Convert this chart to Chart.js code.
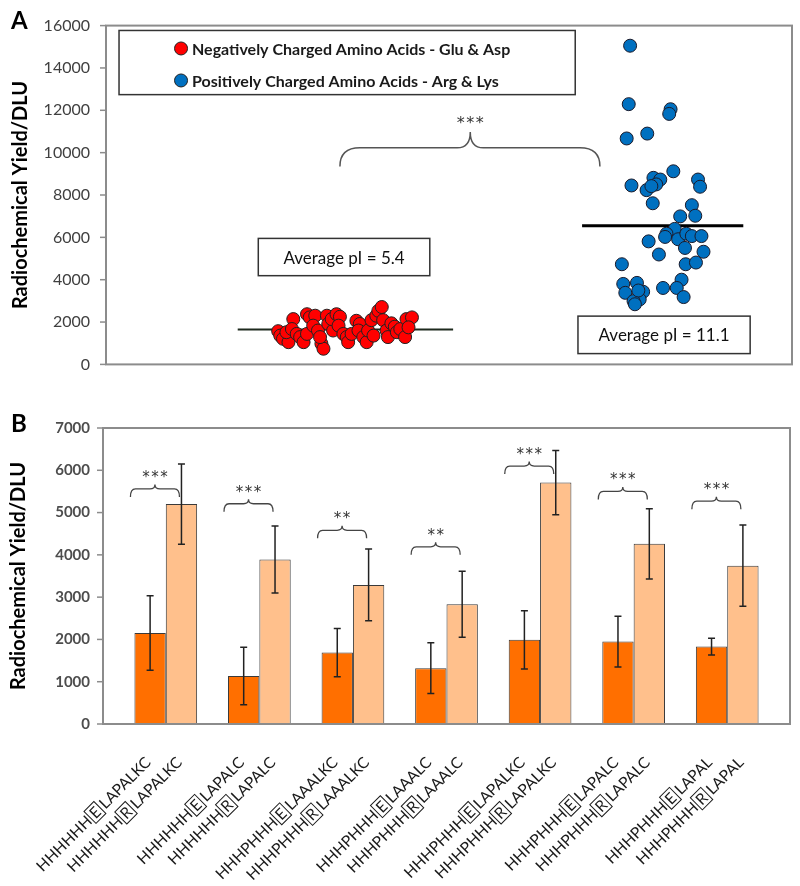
<!DOCTYPE html>
<html>
<head>
<meta charset="utf-8">
<script src="https://cdn.jsdelivr.net/npm/chart.js@4.4.0/dist/chart.umd.min.js"></script>
<style>
body { margin: 0; background: #fff; }
canvas { display: block; }
</style>
</head>
<body>
<canvas id="chartA" width="800" height="390"></canvas>
<canvas id="chartB" width="800" height="496"></canvas>
<script>
// ---- panel A : individual peptides (x = jitter position only)
const negX = [25.1, 25.4, 25.8, 26.6, 26.3, 27.3, 27.1, 27.8, 28.3, 28.8, 29.3, 29.3, 29.7, 30.5, 30.2, 30.9, 31.4, 31.7, 31.2, 32.2, 32.4, 33.1, 32.9, 33.6, 34.1, 33.9, 34.6, 35.1, 35.3, 35.8, 36.5, 37.0, 36.8, 37.5, 38.0, 38.2, 39.0, 38.7, 39.4, 39.7, 40.2, 40.4, 40.9, 41.1, 41.6, 42.1, 42.4, 42.9, 43.6, 43.8, 44.6, 44.1];
const negY = [1570, 1360, 1210, 1050, 1520, 2140, 1670, 1440, 1290, 1050, 1440, 2370, 2220, 2300, 1830, 1600, 980, 740, 1290, 2300, 1910, 1600, 2140, 2370, 2250, 1830, 1440, 1290, 1050, 1440, 2060, 1910, 1600, 1290, 1050, 1600, 1360, 2090, 2300, 2530, 2710, 2090, 1600, 1290, 1940, 1780, 1520, 1670, 1290, 2140, 2220, 1750];
const posX = [76.4, 76.2, 82.3, 82.1, 75.9, 78.9, 82.7, 76.6, 79.8, 80.8, 80.2, 78.8, 79.5, 86.3, 86.6, 79.7, 85.4, 85.9, 83.7, 82.9, 81.7, 81.5, 83.4, 84.6, 85.4, 86.8, 84.4, 79.1, 87.1, 80.6, 84.5, 86.0, 75.2, 83.9, 83.2, 81.2, 84.2, 75.4, 77.4, 75.7, 78.3, 77.8, 76.9, 77.1, 77.6];
const posY = [15050, 12290, 12050, 11830, 10670, 10900, 9120, 8450, 8810, 8730, 8500, 8230, 8420, 8730, 8390, 7610, 7520, 7020, 6990, 6400, 6170, 6020, 5910, 6170, 6060, 6060, 5500, 5810, 5320, 5190, 4730, 4810, 4730, 4000, 3610, 3610, 3180, 3800, 3850, 3380, 3430, 3070, 2990, 2840, 3490];
const negAvg = 1650;
const posAvg = 6550;
const negAvgSpan = [19.2, 50.6];
const posAvgSpan = [69.4, 92.9];
const legendA = ['Negatively Charged Amino Acids - Glu & Asp', 'Positively Charged Amino Acids - Arg & Lys'];
const avgLabels = ['Average pI = 5.4', 'Average pI = 11.1'];
const yTicksA = [0, 16000, 2000];

// ---- panel B : paired peptides
const prefixes = ['HHHHHH', 'HHHHHH', 'HHHPHHH', 'HHHPHHH', 'HHHPHHH', 'HHHPHHH', 'HHHPHHH'];
const suffixes = ['LAPALKC', 'LAPALC', 'LAAALKC', 'LAAALC', 'LAPALKC', 'LAPALC', 'LAPAL'];
const swapped = ['E', 'R'];
const gluMean = [2150, 1135, 1690, 1320, 1990, 1950, 1830];
const gluErr = [880, 680, 570, 600, 690, 600, 200];
const argMean = [5200, 3890, 3290, 2830, 5710, 4260, 3745];
const argErr = [950, 790, 850, 780, 760, 830, 960];
const sigLabels = ['***', '***', '**', '**', '***', '***', '***'];
const sigLevel = [5370, 5020, 4390, 4000, 5910, 5310, 5080];
const yTicksB = [0, 7000, 1000];

const FONT = 'Lato, "Open Sans", sans-serif';
const STAR_FONT = '"DejaVu Sans", sans-serif';
const yTitle = 'Radiochemical Yield/DLU';

function brace(ctx, x1, x2, xc, yEnd, yH, yTop, r, rc) {
  ctx.beginPath();
  ctx.moveTo(x1, yEnd);
  ctx.quadraticCurveTo(x1, yH, x1 + r, yH);
  ctx.lineTo(xc - rc, yH);
  ctx.quadraticCurveTo(xc, yH, xc, yTop);
  ctx.quadraticCurveTo(xc, yH, xc + rc, yH);
  ctx.lineTo(x2 - r, yH);
  ctx.quadraticCurveTo(x2, yH, x2, yEnd);
  ctx.stroke();
}

function stars(ctx, s, x, y) {
  // asterisks with a little gap, centred on x
  const gap = 1.5;
  const w = ctx.measureText('*').width;
  const total = s.length * w + (s.length - 1) * gap;
  ctx.textAlign = 'left';
  for (let i = 0; i < s.length; i++) ctx.fillText('*', x - total / 2 + i * (w + gap), y);
  ctx.textAlign = 'center';
}

const panelA = {
  id: 'panelA',
  afterDraw(chart) {
    const { ctx, chartArea: a, scales: { x, y } } = chart;
    ctx.save();
    ctx.strokeStyle = '#8c8c8c';
    ctx.lineWidth = 2;
    ctx.strokeRect(a.left, a.top, a.right - a.left, a.bottom - a.top);
    ctx.lineWidth = 1.5;
    y.ticks.forEach(t => {
      const py = y.getPixelForValue(t.value);
      ctx.beginPath(); ctx.moveTo(a.left - 6, py); ctx.lineTo(a.left, py); ctx.stroke();
    });

    // legend box
    const lx1 = x.getPixelForValue(1.9), lx2 = x.getPixelForValue(68.4);
    const ly1 = y.getPixelForValue(15770), ly2 = y.getPixelForValue(12740);
    ctx.fillStyle = '#fff';
    ctx.fillRect(lx1, ly1, lx2 - lx1, ly2 - ly1);
    ctx.strokeStyle = '#333';
    ctx.lineWidth = 1.5;
    ctx.strokeRect(lx1, ly1, lx2 - lx1, ly2 - ly1);
    ctx.font = 'bold 16px ' + FONT;
    ctx.textBaseline = 'middle';
    ctx.textAlign = 'left';
    legendA.forEach((txt, i) => {
      const ds = chart.data.datasets[i];
      const cy = ly1 + 18 + i * 32, cx = lx1 + 62;
      ctx.beginPath();
      ctx.arc(cx, cy, 6.5, 0, Math.PI * 2);
      ctx.fillStyle = ds.backgroundColor;
      ctx.fill();
      ctx.strokeStyle = '#222';
      ctx.lineWidth = 1;
      ctx.stroke();
      ctx.fillStyle = '#1a1a1a';
      ctx.fillText(txt, cx + 11, cy + 1);
    });

    // average pI boxes
    const boxes = [[22.2, 47.2, 5950, 4190], [68.8, 93.9, 2280, 510]];
    ctx.font = '17px ' + FONT;
    ctx.textAlign = 'center';
    boxes.forEach((b, i) => {
      const bx1 = x.getPixelForValue(b[0]), bx2 = x.getPixelForValue(b[1]);
      const by1 = y.getPixelForValue(b[2]), by2 = y.getPixelForValue(b[3]);
      ctx.fillStyle = '#fff';
      ctx.fillRect(bx1, by1, bx2 - bx1, by2 - by1);
      ctx.strokeStyle = '#333';
      ctx.lineWidth = 1.5;
      ctx.strokeRect(bx1, by1, bx2 - bx1, by2 - by1);
      ctx.fillStyle = '#111';
      ctx.fillText(avgLabels[i], (bx1 + bx2) / 2, (by1 + by2) / 2 + 1);
    });

    // significance brace
    ctx.strokeStyle = '#555';
    ctx.lineWidth = 1.5;
    brace(ctx, x.getPixelForValue(34.1), x.getPixelForValue(72.0), x.getPixelForValue(53.1),
      y.getPixelForValue(9350), y.getPixelForValue(10230), y.getPixelForValue(10980), 20, 13);
    ctx.fillStyle = '#333';
    ctx.font = '16px ' + STAR_FONT;
    stars(ctx, '***', x.getPixelForValue(53.1), y.getPixelForValue(11580) + 5);

    ctx.fillStyle = '#000';
    ctx.font = 'bold 24px ' + FONT;
    ctx.textAlign = 'left';
    ctx.fillText('A', 11, 21);
    ctx.restore();
  }
};

new Chart('chartA', {
  type: 'scatter',
  data: {
    datasets: [
      { data: negX.map((v, i) => ({ x: v, y: negY[i] })), backgroundColor: '#ff0000', borderColor: '#222', borderWidth: 1, pointRadius: 6.5 },
      { data: posX.map((v, i) => ({ x: v, y: posY[i] })), backgroundColor: '#0070c0', borderColor: '#1a1a2a', borderWidth: 1, pointRadius: 6.5 },
      { data: negAvgSpan.map(v => ({ x: v, y: negAvg })), showLine: true, pointRadius: 0, borderColor: '#1e2a1e', borderWidth: 2 },
      { data: posAvgSpan.map(v => ({ x: v, y: posAvg })), showLine: true, pointRadius: 0, borderColor: '#000', borderWidth: 3 }
    ]
  },
  options: {
    responsive: false,
    animation: false,
    layout: { padding: { top: 22, bottom: 24, right: 8, left: 0 } },
    plugins: { legend: { display: false }, tooltip: { enabled: false } },
    scales: {
      x: { type: 'linear', min: 0, max: 100, display: false },
      y: {
        min: yTicksA[0], max: yTicksA[1],
        ticks: { stepSize: yTicksA[2], padding: 16, color: '#404040', font: { family: FONT, size: 16 }, callback: v => String(v) },
        grid: { display: false, drawTicks: false },
        border: { display: false },
        afterFit(s) { s.width = 106; },
        title: { display: true, text: yTitle, color: '#000', font: { family: FONT, size: 20, weight: 'bold' }, padding: { top: 9, bottom: 0 } }
      }
    }
  },
  plugins: [panelA]
});

function drawSeq(ctx, x, y, pre, letter, post) {
  ctx.save();
  ctx.translate(x, y);
  ctx.rotate(-Math.PI / 4);
  ctx.textAlign = 'left';
  ctx.textBaseline = 'middle';
  const pad = 2.5;
  const wp = ctx.measureText(pre).width, wl = ctx.measureText(letter).width, ws = ctx.measureText(post).width;
  const total = wp + wl + ws + pad * 4;
  let cx = -total;
  ctx.fillText(pre, cx, 0);
  cx += wp + pad / 2;
  ctx.strokeRect(cx, -9, wl + pad * 2, 17);
  ctx.fillText(letter, cx + pad, 0);
  cx += wl + pad * 3;
  ctx.fillText(post, cx, 0);
  ctx.restore();
}

const panelB = {
  id: 'panelB',
  afterDraw(chart) {
    const { ctx, chartArea: a, scales: { y } } = chart;
    const m0 = chart.getDatasetMeta(0).data, m1 = chart.getDatasetMeta(1).data;
    ctx.save();

    // error bars
    ctx.strokeStyle = '#222';
    ctx.lineWidth = 1.5;
    [[m0, gluMean, gluErr], [m1, argMean, argErr]].forEach(([bars, mean, err]) => {
      bars.forEach((b, j) => {
        const yt = y.getPixelForValue(mean[j] + err[j]), yb = y.getPixelForValue(mean[j] - err[j]);
        ctx.beginPath();
        ctx.moveTo(b.x, yt); ctx.lineTo(b.x, yb);
        ctx.moveTo(b.x - 3.5, yt); ctx.lineTo(b.x + 3.5, yt);
        ctx.moveTo(b.x - 3.5, yb); ctx.lineTo(b.x + 3.5, yb);
        ctx.stroke();
      });
    });

    // significance braces
    ctx.strokeStyle = '#444';
    ctx.lineWidth = 1.3;
    ctx.fillStyle = '#333';
    ctx.font = '15px ' + STAR_FONT;
    ctx.textAlign = 'center';
    ctx.textBaseline = 'middle';
    m0.forEach((b, j) => {
      const x1 = b.x - b.width / 2 - 4, x2 = m1[j].x - 2, xc = (x1 + x2) / 2;
      const yEnd = y.getPixelForValue(sigLevel[j]);
      brace(ctx, x1, x2, xc, yEnd, yEnd - 8, yEnd - 12.5, 5, 5);
      stars(ctx, sigLabels[j], xc, yEnd - 19);
    });

    // frame, wider than the category area
    ctx.strokeStyle = '#8c8c8c';
    ctx.lineWidth = 2;
    const fl = a.left - 16, fr = a.right + 16;
    ctx.strokeRect(fl, a.top, fr - fl, a.bottom - a.top);
    ctx.lineWidth = 1.5;
    y.ticks.forEach(t => {
      const py = y.getPixelForValue(t.value);
      ctx.beginPath(); ctx.moveTo(fl - 6, py); ctx.lineTo(fl, py); ctx.stroke();
    });

    // sequence labels with the swapped residue boxed
    ctx.fillStyle = '#1a1a1a';
    ctx.strokeStyle = '#1a1a1a';
    ctx.lineWidth = 1;
    ctx.font = '15.5px ' + FONT;
    [m0, m1].forEach((bars, k) => {
      bars.forEach((b, j) => drawSeq(ctx, b.x - 1, a.bottom + 35, prefixes[j], swapped[k], suffixes[j]));
    });

    ctx.fillStyle = '#000';
    ctx.font = 'bold 24px ' + FONT;
    ctx.textAlign = 'left';
    ctx.fillText('B', 11, 34);
    ctx.restore();
  }
};

new Chart('chartB', {
  type: 'bar',
  data: {
    labels: prefixes.map((p, i) => p + swapped[0] + suffixes[i]),
    datasets: [
      { data: gluMean, backgroundColor: '#ff6f00', borderColor: '#3a3a3a', borderWidth: 1 },
      { data: argMean, backgroundColor: '#ffc08c', borderColor: '#3a3a3a', borderWidth: 1 }
    ]
  },
  options: {
    responsive: false,
    animation: false,
    layout: { padding: { top: 38, bottom: 162, right: 26, left: 0 } },
    plugins: { legend: { display: false }, tooltip: { enabled: false } },
    datasets: { bar: { categoryPercentage: 0.67, barPercentage: 1 } },
    scales: {
      x: { display: false },
      y: {
        min: yTicksB[0], max: yTicksB[1],
        ticks: { stepSize: yTicksB[2], padding: 29, color: '#4d4d4d', font: { family: FONT, size: 15, weight: 'bold' }, callback: v => String(v) },
        grid: { display: false, drawTicks: false },
        border: { display: false },
        afterFit(s) { s.width = 119; },
        title: { display: true, text: yTitle, color: '#000', font: { family: FONT, size: 20, weight: 'bold' }, padding: { top: 7, bottom: 0 } }
      }
    }
  },
  plugins: [panelB]
});
</script>
</body>
</html>
